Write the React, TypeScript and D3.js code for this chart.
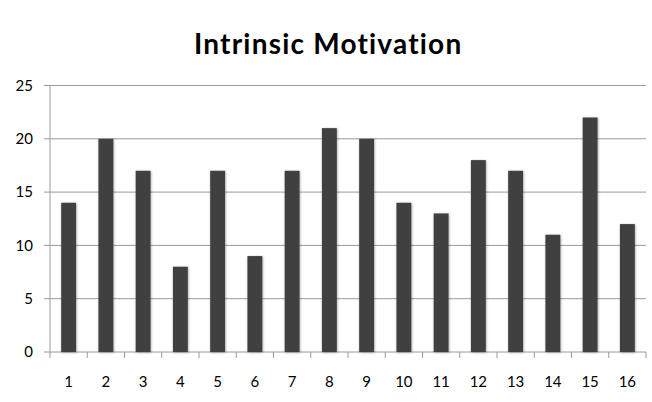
import React from "react";
import * as d3 from "d3";

const categories: string[] = ["1", "2", "3", "4", "5", "6", "7", "8", "9", "10", "11", "12", "13", "14", "15", "16"];
const values: number[] = [14, 20, 17, 8, 17, 9, 17, 21, 20, 14, 13, 18, 17, 11, 22, 12];
const yTicks: number[] = [0, 5, 10, 15, 20, 25];
const title = "Intrinsic Motivation";

const W = 652;
const H = 402;
const left = 50;
const right = 646;
const top = 85.5;
const bottom = 352;

export default function App() {
  const x = d3.scaleBand<string>().domain(categories).range([left, right]).paddingInner(0.6).paddingOuter(0.3);
  const band = d3.scaleBand<string>().domain(categories).range([left, right]);
  const y = d3.scaleLinear().domain([0, 25]).range([bottom, top]);
  const font = "Lato, 'Open Sans', sans-serif";

  return (
    <svg width={W} height={H} style={{ position: "absolute", left: 0, top: 0, background: "#fff" }}>
      <defs>
        <filter id="barShadow" x="-30%" y="-10%" width="160%" height="120%">
          <feDropShadow dx="0.6" dy="0.6" stdDeviation="0.8" floodColor="#000" floodOpacity="0.35" />
        </filter>
      </defs>
      <text x={194} y={54} textAnchor="start" fontFamily={font} fontWeight="bold" fontSize={28} letterSpacing={1.2} fill="#000">
        {title}
      </text>
      {yTicks.map((t) => (
        <g key={t}>
          <line x1={left - 6} x2={right} y1={y(t)} y2={y(t)} stroke="#9a9a9a" strokeWidth={1} />
          <text x={left - 17} y={y(t)} dy="0.35em" textAnchor="end" fontFamily={font} fontSize={15} fill="#000">
            {t}
          </text>
        </g>
      ))}
      <line x1={left} x2={left} y1={top} y2={bottom} stroke="#9a9a9a" strokeWidth={1} />
      {values.map((v, i) => (
        <rect
          key={i}
          x={x(categories[i])!}
          y={y(v)}
          width={x.bandwidth()}
          height={bottom - y(v)}
          fill="#404040"
          filter="url(#barShadow)"
        />
      ))}
      {categories.map((c, i) => (
        <g key={c}>
          <line
            x1={band(c)! + band.bandwidth()}
            x2={band(c)! + band.bandwidth()}
            y1={bottom}
            y2={bottom + 6}
            stroke="#9a9a9a"
          />
          {i === 0 && <line x1={left} x2={left} y1={bottom} y2={bottom + 6} stroke="#9a9a9a" />}
          <text
            x={band(c)! + band.bandwidth() / 2}
            y={382}
            dy="0.35em"
            textAnchor="middle"
            fontFamily={font}
            fontSize={15}
            fill="#000"
          >
            {c}
          </text>
        </g>
      ))}
    </svg>
  );
}
